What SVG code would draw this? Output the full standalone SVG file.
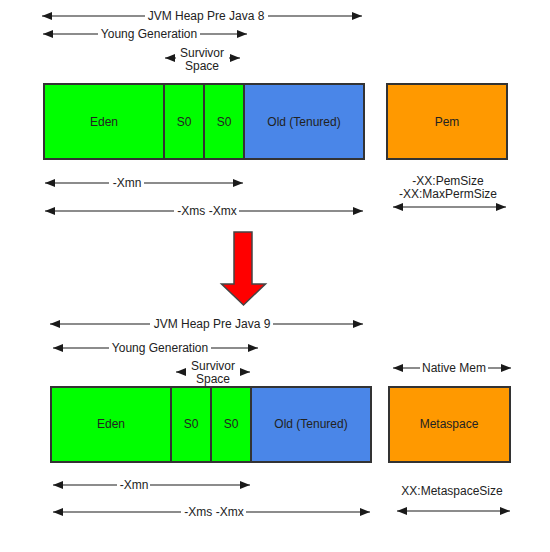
<svg xmlns="http://www.w3.org/2000/svg" width="550" height="552" viewBox="0 0 550 552">
<defs>
<marker id="ah" markerUnits="userSpaceOnUse" markerWidth="10" markerHeight="8" refX="10" refY="4" orient="auto-start-reverse">
<path d="M0,0 L10,4 L0,8 z" fill="#1a1a1a"/>
</marker>
</defs>
<style>
text{font-family:"Liberation Sans",Arial,sans-serif;font-size:12px;fill:#222;text-anchor:middle}
.box{stroke:#333;stroke-width:2}
.g{fill:#00ff00}
.b{fill:#4a86e8}
.o{fill:#ff9900}
.c line{stroke:#666;stroke-width:1.5}
.s{marker-start:url(#ah)}
.e{marker-end:url(#ah)}
.se{marker-start:url(#ah);marker-end:url(#ah)}
</style>
<rect width="550" height="552" fill="#fff"/>
<g id="connectors" class="c">
<line class="s" x1="42" y1="16" x2="145" y2="16"/>
<line class="e" x1="268" y1="16" x2="362" y2="16"/>
<line class="s" x1="43" y1="34" x2="98" y2="34"/>
<line class="e" x1="200" y1="34" x2="247" y2="34"/>
<line class="s" x1="165" y1="58" x2="176" y2="58"/>
<line class="e" x1="229" y1="58" x2="240" y2="58"/>
<line class="s" x1="45" y1="183" x2="109" y2="183"/>
<line class="e" x1="144" y1="183" x2="243" y2="183"/>
<line class="s" x1="45" y1="211" x2="174" y2="211"/>
<line class="e" x1="239" y1="211" x2="363" y2="211"/>
<line class="se" x1="393" y1="207" x2="506" y2="207"/>
<line class="s" x1="50" y1="324" x2="150" y2="324"/>
<line class="e" x1="273" y1="324" x2="363" y2="324"/>
<line class="s" x1="53" y1="348" x2="109" y2="348"/>
<line class="e" x1="211" y1="348" x2="258" y2="348"/>
<line class="s" x1="176" y1="372" x2="186" y2="372"/>
<line class="e" x1="240" y1="372" x2="250" y2="372"/>
<line class="s" x1="393" y1="368" x2="420" y2="368"/>
<line class="e" x1="488" y1="368" x2="511" y2="368"/>
<line class="s" x1="53" y1="485" x2="117" y2="485"/>
<line class="e" x1="150" y1="485" x2="250" y2="485"/>
<line class="s" x1="53" y1="512" x2="181" y2="512"/>
<line class="e" x1="246" y1="512" x2="370" y2="512"/>
<line class="se" x1="397" y1="511" x2="510" y2="511"/>
</g>
<g id="labels-top">
<text x="206" y="20">JVM Heap Pre Java 8</text>
<text x="149" y="38">Young Generation</text>
<text x="202" y="57">Survivor</text>
<text x="202" y="70">Space</text>
<text x="127" y="187">-Xmn</text>
<text x="207" y="215">-Xms -Xmx</text>
<text x="448" y="185">-XX:PemSize</text>
<text x="448" y="198">-XX:MaxPermSize</text>
</g>
<g id="eden8"><rect class="box g" x="44" y="84" width="120" height="75"/><text x="104" y="126">Eden</text></g>
<g id="s0a8"><rect class="box g" x="164" y="84" width="40" height="75"/><text x="184" y="126">S0</text></g>
<g id="s0b8"><rect class="box g" x="204" y="84" width="40" height="75"/><text x="224" y="126">S0</text></g>
<g id="old8"><rect class="box b" x="244" y="84" width="120" height="75"/><text x="304" y="126">Old (Tenured)</text></g>
<g id="pem"><rect class="box o" x="387" y="84" width="120" height="75"/><text x="447" y="126">Pem</text></g>
<g id="bigarrow"><path d="M234,232 L252,232 L252,284 L265.5,284 L243.5,305 L221.5,284 L234,284 z" fill="#ff0000" stroke="#444" stroke-width="1.5"/></g>
<g id="labels-bottom">
<text x="212" y="328">JVM Heap Pre Java 9</text>
<text x="160" y="352">Young Generation</text>
<text x="213" y="370">Survivor</text>
<text x="213" y="383">Space</text>
<text x="454" y="372">Native Mem</text>
<text x="134" y="489">-Xmn</text>
<text x="452" y="495">XX:MetaspaceSize</text>
<text x="214" y="516">-Xms -Xmx</text>
</g>
<g id="eden9"><rect class="box g" x="51" y="387" width="120" height="75"/><text x="111" y="428">Eden</text></g>
<g id="s0a9"><rect class="box g" x="171" y="387" width="40" height="75"/><text x="191" y="428">S0</text></g>
<g id="s0b9"><rect class="box g" x="211" y="387" width="40" height="75"/><text x="231" y="428">S0</text></g>
<g id="old9"><rect class="box b" x="251" y="387" width="120" height="75"/><text x="311" y="428">Old (Tenured)</text></g>
<g id="metaspace"><rect class="box o" x="389" y="387" width="121" height="75"/><text x="449" y="428">Metaspace</text></g>
</svg>
